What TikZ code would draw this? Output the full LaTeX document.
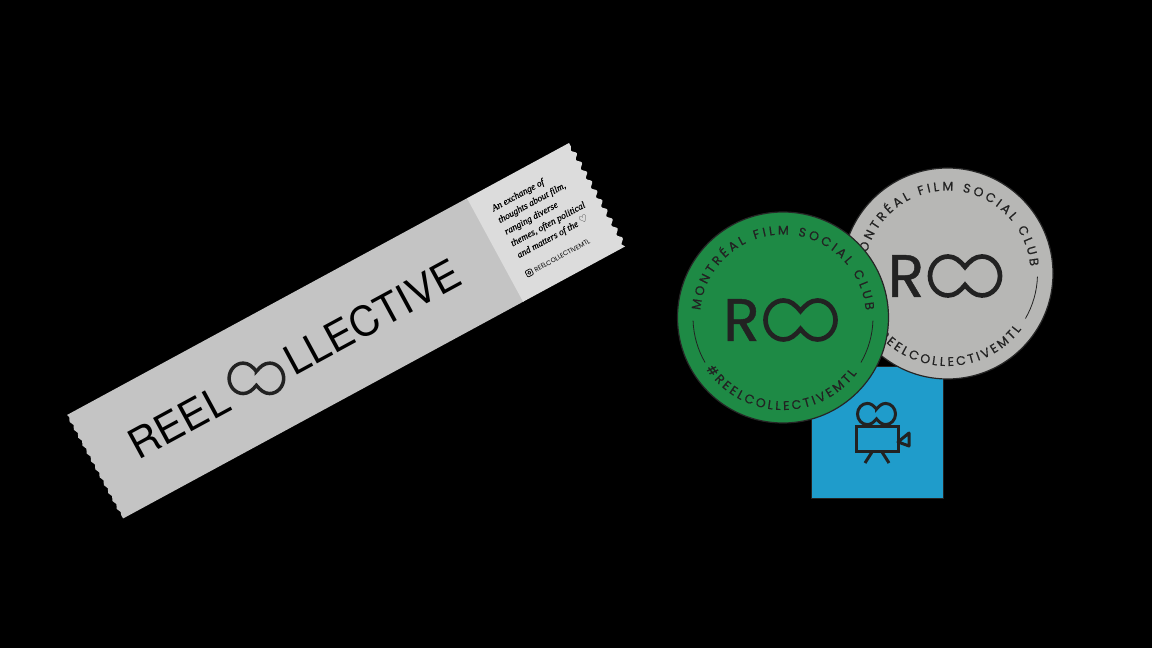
\documentclass[tikz,border=0pt]{standalone}
\usepackage{fontspec}
\usetikzlibrary{decorations.text,decorations.pathmorphing}
\newfontfamily\reelfont{Poppins}
\newfontfamily\markfont[FakeBold=0.8]{Poppins}
\newfontfamily\ringbase[FakeBold=0.5]{Poppins}
\newfontfamily\wordfont{TeX Gyre Heros}
\newfontfamily\notefont[FakeBold=0.4]{Liberation Serif}
\newfontfamily\heartfont{DejaVu Sans}
\newcommand\ringfont{\fontsize{12.5}{12.5}\ringbase}
\definecolor{ticketgray}{HTML}{C4C4C4}
\definecolor{stubgray}{HTML}{DCDCDC}
\definecolor{badgegray}{HTML}{B7B7B5}
\definecolor{badgegreen}{HTML}{1E8A45}
\definecolor{squareblue}{HTML}{1F9CCB}
\definecolor{inkdark}{HTML}{222222}
\tikzset{
        reelloop/.pic={
                \draw[inkdark,pic actions](0,9)..controls(5,15)and(10,19.5)..(17,19.5)..controls(27,19.5)and(35,10.5)..(35,0)..controls(35,-10.5)and(27,-19.5)..(17,-19.5)..controls(10,-19.5)and(5,-15)..(0,-9)..controls(-5,-15)and(-10,-19.5)..(-17,-19.5)..controls(-27,-19.5)and(-35,-10.5)..(-35,0)..controls(-35,10.5)and(-27,19.5)..(-17,19.5)..controls(-10,19.5)and(-5,15)..cycle;
        },
        ticketword/.style={anchor=base west,inner sep=0pt,transform shape,text=black,font=\fontsize{41}{41}\wordfont},
        ringtext/.style={decorate,decoration={text along path,text align={fit to path},text color=inkdark,text={#1}}},
}
\begin{document}
\begin{tikzpicture}[x=1pt,y=1pt]
        \fill[black](0,0)rectangle(1152,648);

        % ticket
        \begin{scope}[shift={(67,233)},rotate=28.45]
                \fill[ticketgray,decoration={snake,segment length=9,amplitude=1}](0,0)decorate{--(0,-117.7)}--(456,-117.7)--(456,0)--cycle;
                \fill[stubgray,decoration={snake,segment length=10.7,amplitude=2}](455,0)--(455,-117.7)--(571,-117.7)decorate{--(571,0)}--cycle;
                \node[ticketword](reel)at(41.5,-74){REEL};
                \pic[line width=3.5pt,scale=0.78]at(184,-58){reelloop};
                \node[ticketword](llective)at(218,-74){LLECTIVE};
                \node[anchor=north west,inner sep=0pt,transform shape,align=left,text=black,font=\fontsize{9.4}{13.3}\notefont\itshape](note)at(472,-17.5){An exchange of\\thoughts about film,\\ranging diverse\\themes, often political\\and matters of the {\heartfont\fontsize{10}{10}\selectfont ♡}};
                \draw[black,line width=0.7pt,rounded corners=1pt](471,-98.5)rectangle(477.5,-92);
                \draw[black,line width=0.7pt](474.25,-95.25)circle[radius=1.6];
                \node[anchor=base west,inner sep=0pt,transform shape,text=black,font=\fontsize{6.5}{6.5}\reelfont](handle)at(480,-98){REELCOLLECTIVEMTL};
        \end{scope}

        % square with the camera
        \fill[squareblue,draw=inkdark,line width=1pt](811,149)rectangle(943,281);
        \pic[line width=3pt,scale=0.543]at(876.5,234){reelloop};
        \draw[inkdark,line width=3pt](856,196)rectangle(898,221);
        \draw[inkdark,line width=3pt,line join=round](898,206)--(909,215)--(909,202)--cycle;
        \draw[inkdark,line width=3pt](872,196)--(865,185);
        \draw[inkdark,line width=3pt](882,196)--(889,185);

        % the two badges
        \foreach \bx/\by/\bcolor in {947.5/374.5/badgegray,783/330.5/badgegreen}{
                \begin{scope}[shift={(\bx,\by)}]
                        \fill[\bcolor,draw=black!85,line width=1.2pt](0,0)circle[radius=105.5];
                        \node[anchor=base west,inner sep=0pt,text=inkdark,font=\fontsize{60}{60}\markfont]at(-60,-23.5){R};
                        \pic[line width=4.7pt]at(17.5,-2.5){reelloop};
                        \path[ringtext={|\ringfont|MONTRÉAL FILM SOCIAL CLUB}](175:83)arc[start angle=175,end angle=5,radius=83];
                        \path[ringtext={|\ringfont|REELCOLLECTIVEMTL}](222:92.5)arc[start angle=222,end angle=323,radius=92.5];
                        \node[rotate=-53,inner sep=0pt,text=inkdark,font=\ringfont]at(217:88){\#};
                        \draw[inkdark,line width=0.8pt](182:90)arc[start angle=182,end angle=210,radius=90];
                        \draw[inkdark,line width=0.8pt](-2:90)arc[start angle=-2,end angle=-30,radius=90];
                \end{scope}
        }
\end{tikzpicture}
\end{document}
